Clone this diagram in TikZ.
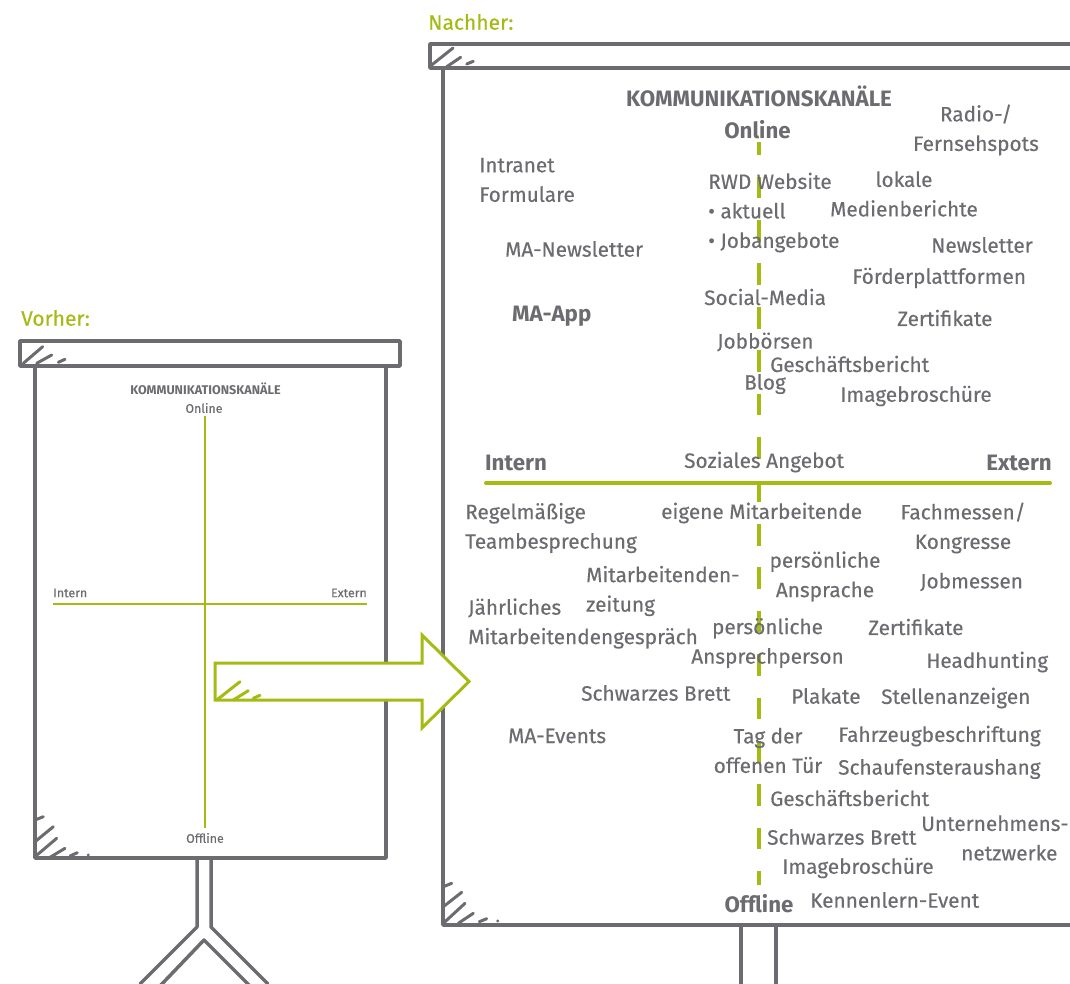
\documentclass[tikz,border=0pt]{standalone}
\usepackage{fontspec}
\setmainfont{Fira Sans}
\newfontfamily\rf{Fira Sans}[FakeBold=0.35]
\definecolor{gr}{RGB}{108,108,112}
\definecolor{gn}{RGB}{166,186,20}
\tikzset{
  board/.style={gr, line width=3.5pt, line cap=round, line join=round},
  hatch/.style={gr, line width=3pt, line cap=round},
  ahatch/.style={gn, line width=3pt, line cap=round},
  lbl/.style={text=gr, font=\rf\fontsize{20.8}{29.5}\selectfont, inner sep=0pt, anchor=west},
  lblc/.style={text=gr, font=\rf\fontsize{20.8}{29.5}\selectfont, inner sep=0pt, align=center},
  lbll/.style={text=gr, font=\rf\fontsize{20.8}{29.5}\selectfont, inner sep=0pt, align=left, anchor=west},
  hdr/.style={text=gr, font=\fontsize{22.3}{26}\selectfont\bfseries, inner sep=0pt},
  sm/.style={text=gr, font=\rf\fontsize{12.4}{14}\selectfont, inner sep=0pt},
  title/.style={text=gn, font=\rf\fontsize{21}{24}\selectfont, inner sep=0pt, anchor=west},
}
\begin{document}
\begin{tikzpicture}[x=1pt,y=-1pt]
\useasboundingbox (0,0) rectangle (1070,984);

% ---------------- left board (Vorher) ----------------
\node[title] (vorher) at (21,318) {Vorher:};
\draw[board] (20,341) rectangle (400,366);
\draw[board] (35,366) -- (35,858) -- (386,858) -- (386,366);
\draw[hatch] (23.3,363.3) -- (42.7,346.7);
\draw[hatch] (36.7,363.3) -- (51.7,355);
\draw[hatch] (58.3,362.3) -- (65,359.3);
\draw[hatch] (35,820) -- (43.3,816.7);
\draw[hatch] (35,841.7) -- (53.3,826.7);
\draw[hatch] (35,856.7) -- (56.7,838.3);
\draw[hatch] (50,857.3) -- (65,848.3);
\draw[hatch] (70,856) -- (77.3,852.7);
\fill[gr] (88.3,855) circle (1.6);
% stand
\draw[board] (197,858) -- (197,927) -- (140,984);
\draw[board] (211,858) -- (211,927) -- (268,984);
\draw[board] (160,986) -- (204,940) -- (250,986);
% content
\node[sm, font=\fontsize{12.6}{14}\selectfont\bfseries] (lk) at (205.5,389) {KOMMUNIKATIONSKAN\"ALE};
\node[sm] (lon) at (204,408) {Online};
\node[sm] (loff) at (205,838) {Offline};
\node[sm, anchor=west] (lint) at (53,593) {Intern};
\node[sm, anchor=east] (lext) at (367,593) {Extern};
\coordinate (lvt) at (205,416);
\coordinate (lvb) at (205,828);
\coordinate (lhl) at (53,604);
\coordinate (lhr) at (367,604);
\draw[gn, line width=2pt] (lvt) -- (lvb);
\draw[gn, line width=2pt] (lhl) -- (lhr);

% ---------------- right board (Nachher) ----------------
\node[title] (nachher) at (428,22) {Nachher:};
\draw[board] (1075,44) -- (430,44) -- (430,68) -- (1075,68);
\draw[board] (443,68) -- (443,925) -- (1075,925);
\draw[hatch] (431.7,65) -- (453,48);
\draw[hatch] (446.7,66.7) -- (460.7,57.3);
\draw[hatch] (466.7,64) -- (473.3,61.3);
\draw[hatch] (443.3,886.7) -- (451.7,883.3);
\draw[hatch] (443.3,906.7) -- (461.7,892.3);
\draw[hatch] (443.3,923.3) -- (465,903.3);
\draw[hatch] (458.3,923.3) -- (473.3,913.3);
\draw[hatch] (479.3,921.7) -- (486.7,918.7);
\fill[gr] (497.7,921) circle (1.6);
\draw[board] (741,925) -- (741,990);
\draw[board] (776,925) -- (776,990);

% axes
\coordinate (vt) at (759,142);
\coordinate (vb) at (759,885);
\coordinate (hl) at (486,483);
\coordinate (hr) at (1050,483);
\draw[gn, line width=4pt, dash pattern=on 21.7pt off 21.7pt, dash phase=8.7pt] (vt) -- (vb);
\draw[gn, line width=4pt, line cap=round] (hl) -- (hr);

% headers
\node[hdr] (rk) at (759,96) {KOMMUNIKATIONSKAN\"ALE};
\node[hdr] (ron) at (757.5,130) {Online};
\node[hdr] (roff) at (759,904) {Offline};
\node[hdr, anchor=west] (rint) at (485,463) {Intern};
\node[hdr, anchor=east] (rext) at (1052,463) {Extern};
\node[hdr, anchor=west] (maapp) at (512,316) {MA-App};

% upper half
\node[lblc] (radio) at (976,130) {Radio-/\\Fernsehspots};
\node[lbll] (intra) at (479,180) {Intranet\\Formulare};
\node[lbll] (rwd) at (708,212.5) {RWD Website\\\textbullet\ aktuell\\\textbullet\ Jobangebote};
\node[lblc] (lokale) at (904,194) {lokale\\Medienberichte};
\node[lbl] (manl) at (505,249) {MA-Newsletter};
\node[lbl] (nl) at (931,245) {Newsletter};
\node[lbl] (foerd) at (852,278) {F\"orderplattformen};
\node[lbl] (social) at (704,297) {Social-Media};
\node[lbl] (zert1) at (897,318) {Zertifikate};
\node[lbl] (jobb) at (717,342) {Jobb\"orsen};
\node[lbl] (gb1) at (770,364) {Gesch\"aftsbericht};
\node[lbl] (blog) at (744,384) {Blog};
\node[lbl] (img1) at (840,396) {Imagebrosch\"ure};
\node[lbl] (soz) at (684,462) {Soziales Angebot};

% lower half
\node[lbll] (regel) at (465,528) {Regelm\"a\ss ige\\Teambesprechung};
\node[lbl] (eigene) at (661,513) {eigene Mitarbeitende};
\node[lblc] (fach) at (963,528) {Fachmessen/\\Kongresse};
\node[lblc] (pa) at (825,576.5) {pers\"onliche\\Ansprache};
\node[lbll] (mz) at (586,591) {Mitarbeitenden-\\zeitung};
\node[lbl] (jobm) at (920,582) {Jobmessen};
\node[lbll] (jaehr) at (468,623.5) {J\"ahrliches\\Mitarbeitendengespr\"ach};
\node[lblc] (pap) at (767.5,643) {pers\"onliche\\Ansprechperson};
\node[lbl] (zert2) at (868,627) {Zertifikate};
\node[lbl] (head) at (926,662) {Headhunting};
\node[lbl] (sb1) at (581,693) {Schwarzes Brett};
\node[lbl] (plak) at (791,696) {Plakate};
\node[lbl] (stell) at (881,698) {Stellenanzeigen};
\node[lbl] (maev) at (508,736) {MA-Events};
\node[lblc] (tag) at (768,750.5) {Tag der\\offenen T\"ur};
\node[lbl] (fahr) at (838,736) {Fahrzeugbeschriftung};
\node[lbl] (schauf) at (838,769) {Schaufensteraushang};
\node[lbl] (gb2) at (770,798) {Gesch\"aftsbericht};
\node[lbll] (unt) at (921,838) {Unternehmens-\\\hspace*{40pt}netzwerke};
\node[lbl] (sb2) at (767,837) {Schwarzes Brett};
\node[lbl] (img2) at (782,868) {Imagebrosch\"ure};
\node[lbl] (kenn) at (810,900) {Kennenlern-Event};

% ---------------- arrow ----------------
\coordinate (a1) at (215,663);
\coordinate (a2) at (422,663);
\coordinate (a3) at (422,635);
\coordinate (atip) at (469,681.5);
\coordinate (a5) at (422,728);
\coordinate (a6) at (422,700);
\coordinate (a7) at (215,700);
\draw[gn, fill=white, line width=3pt, line join=miter] (a1) -- (a2) -- (a3) -- (atip) -- (a5) -- (a6) -- (a7) -- cycle;
\draw[ahatch] (216.7,700) -- (240,681.7);
\draw[ahatch] (233.3,700) -- (248.3,690.7);
\draw[ahatch] (253.3,698.3) -- (260,695.3);
\end{tikzpicture}
\end{document}
